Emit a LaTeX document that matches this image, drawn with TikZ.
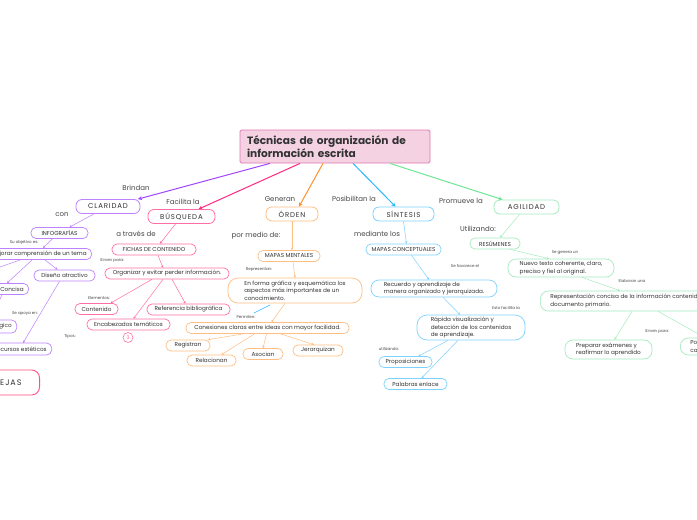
\documentclass[tikz,border=0pt]{standalone}
\usepackage{fontspec}
\setmainfont{Poppins}
\newfontfamily\spacedfont[LetterSpace=12]{Poppins}
\usetikzlibrary{arrows.meta,positioning}

\definecolor{titlefill}{RGB}{244,210,226}
\definecolor{titleline}{RGB}{226,120,180}
\definecolor{claridadline}{RGB}{160,70,255}
\definecolor{claridadbox}{RGB}{190,130,255}
\definecolor{busquedaline}{RGB}{255,40,130}
\definecolor{busquedabox}{RGB}{255,110,165}
\definecolor{ordenline}{RGB}{255,145,45}
\definecolor{ordenbox}{RGB}{255,190,130}
\definecolor{sintesisline}{RGB}{40,185,255}
\definecolor{sintesisbox}{RGB}{125,210,255}
\definecolor{agilidadline}{RGB}{110,230,150}
\definecolor{agilidadbox}{RGB}{165,235,190}
\definecolor{extraline}{RGB}{255,80,130}
\definecolor{labelgray}{RGB}{70,70,70}
\definecolor{textdark}{RGB}{50,50,50}

\tikzset{
  maintopic/.style={draw=#1, rounded corners=6pt, line width=0.8pt, fill=white, text=textdark,
    font=\spacedfont\fontsize{7}{8}\selectfont, minimum height=14pt, inner xsep=8pt, inner ysep=2pt},
  subtopic/.style={draw=#1, rounded corners=5pt, line width=0.7pt, fill=white, text=textdark,
    font=\fontsize{5.7}{7.6}\selectfont, minimum height=11pt, inner xsep=5pt, inner ysep=1.5pt},
  bigtopic/.style={subtopic=#1, rounded corners=8pt, align=left},
  linklabel/.style={font=\fontsize{7}{8}\selectfont, text=labelgray, inner sep=0pt},
  tinylabel/.style={font=\fontsize{4}{5}\selectfont, text=labelgray, inner sep=0pt},
  mainlink/.style={draw=#1, line width=1pt, -{Stealth[length=4pt,width=4pt]}},
  sublink/.style={draw=#1, line width=0.5pt, -{Stealth[length=2.5pt,width=2.5pt]}},
}

\begin{document}
\begin{tikzpicture}[x=1pt,y=-1pt]
\useasboundingbox (0,0) rectangle (697,520);
\fill[white] (0,0) rectangle (697,520);
\clip (0,0) rectangle (697,520);

% central topic
\node[draw=titleline, fill=titlefill, line width=0.8pt, rounded corners=1.5pt, text=textdark,
  text width=176pt, align=left, inner xsep=7pt, minimum height=33pt,
  font=\bfseries\fontsize{10.6}{13.5}\selectfont] (title) at (335,146.5)
  {Técnicas de organización de\\información escrita};

% main topics
\node[maintopic=claridadbox, minimum width=64pt] (claridad) at (108,206.5) {CLARIDAD};
\node[maintopic=busquedabox, minimum width=67pt] (busqueda) at (181.5,216.5) {BÚSQUEDA};
\node[maintopic=ordenbox, minimum width=52pt] (orden) at (292,214) {ÓRDEN};
\node[maintopic=sintesisbox, minimum width=61pt] (sintesis) at (403.5,214) {SÍNTESIS};
\node[maintopic=agilidadbox, minimum width=65pt] (agilidad) at (526.5,207) {AGILIDAD};

\node[linklabel] (lblbrindan) at (136,188) {Brindan};
\node[linklabel] (lblfacilita) at (183,202) {Facilita la};
\node[linklabel] (lblgeneran) at (280,199) {Generan};
\node[linklabel] (lblposibilitan) at (354,199) {Posibilitan la};
\node[linklabel] (lblpromueve) at (461,201) {Promueve la};

\draw[mainlink=claridadline] ([xshift=-65pt]title.south) -- ([xshift=30pt]claridad.north);
\draw[mainlink=busquedaline] ([xshift=-35pt]title.south) -- ([xshift=17pt]busqueda.north);
\draw[mainlink=ordenline] ([xshift=-12pt]title.south) -- ([xshift=7pt]orden.north);
\draw[mainlink=sintesisline] ([xshift=18pt]title.south) -- ([xshift=-8pt]sintesis.north);
\draw[mainlink=agilidadline] ([xshift=55pt]title.south) -- ([xshift=-24pt]agilidad.north);

% claridad
\node[linklabel] (lblcon) at (62,215) {con};
\node[subtopic=claridadbox, minimum width=57pt] (infografias) at (59.5,233) {INFOGRAFÍAS};
\node[tinylabel] (lblobjetivo) at (24,242) {Su objetivo es:};
\node[subtopic=claridadbox, anchor=east] (mejorar) at (92,254) {Mejorar comprensión de un tema};
\node[subtopic=claridadbox, anchor=east] (concisa) at (29,289) {Concisa};
\node[subtopic=claridadbox, minimum width=61pt] (diseno) at (64.5,275.5) {Diseño atractivo};
\node[tinylabel] (lblapoya) at (25,314) {Se apoya en:};
\node[subtopic=claridadbox, anchor=east, minimum height=13pt] (logico) at (17,326.5) {Lógico};
\node[subtopic=claridadbox, anchor=east, minimum height=12pt] (recursos) at (52,349) {Recursos estéticos};
\node[tinylabel] (lbltipos) at (70,336) {Tipos:};
\coordinate (offleft) at (-20,274);

\draw[sublink=claridadbox] ([xshift=-14pt]claridad.south) -- ([xshift=10pt]infografias.north);
\draw[sublink=claridadbox] ([xshift=-7pt]infografias.south) -- (43,248);
\draw[sublink=claridadbox] (32,260) -- ([xshift=-5pt]concisa.north);
\draw[sublink=claridadbox] (45,260) -- ([xshift=-7pt]diseno.north);
\draw[sublink=claridadbox] (20,260) -- (offleft);
\draw[sublink=claridadbox] ([xshift=-10pt]concisa.south) -- ([xshift=-12pt]logico.north);
\draw[sublink=claridadbox] ([xshift=-5pt]diseno.south) -- (23,343);

\node[draw=extraline, rounded corners=8pt, line width=0.9pt, fill=white, text=textdark,
  font=\spacedfont\fontsize{8}{9}\selectfont, anchor=east, minimum height=25pt,
  text width=30pt, align=right, inner xsep=18pt] (ejas) at (40,382.5) {EJAS};

% busqueda
\node[linklabel] (lbltraves) at (136,234) {a través de};
\node[subtopic=busquedabox, minimum width=84pt] (fichas) at (154,249.5) {FICHAS DE CONTENIDO};
\node[tinylabel] (lblsirven) at (112,260) {Sirven para:};
\node[subtopic=busquedabox, minimum width=124pt] (organizar) at (167,273.5) {Organizar y evitar perder información.};
\node[tinylabel] (lblelementos) at (99,298) {Elementos:};
\node[subtopic=busquedabox, minimum width=43pt] (contenido) at (96.5,309) {Contenido};
\node[subtopic=busquedabox, minimum width=83pt] (referencia) at (188.5,309.5) {Referencia bibliográfica};
\node[subtopic=busquedabox, minimum width=83pt] (encabezados) at (128.5,324.5) {Encabezados temáticos};
\node[circle, draw=busquedabox, line width=0.6pt, minimum size=10pt, inner sep=0pt,
  font=\fontsize{5}{5}\selectfont, text=busquedabox] (pinkcount) at (128,337.5) {3};

\draw[sublink=busquedabox] ([xshift=-6pt]busqueda.south) -- ([xshift=6pt]fichas.north);
\draw[sublink=busquedabox] ([xshift=4pt]fichas.south) -- ([xshift=-4pt]organizar.north);
\draw[sublink=busquedabox] ([xshift=-15pt]organizar.south) -- ([xshift=14pt]contenido.north);
\draw[sublink=busquedabox] ([xshift=5pt]organizar.south) -- ([xshift=-3pt]referencia.north);
\draw[sublink=busquedabox] ([xshift=-4pt]organizar.south) -- ([xshift=5pt]encabezados.north);

% orden
\node[linklabel] (lblmedio) at (256,236) {por medio de:};
\node[subtopic=ordenbox, minimum width=62pt] (mentales) at (289,256) {MAPAS MENTALES};
\node[tinylabel] (lblrepresentan) at (259,270) {Representan:};
\node[bigtopic=ordenbox, rounded corners=10pt, minimum width=134pt, minimum height=25pt] (formagrafica) at (295,290.5)
  {En forma gráfica y esquemática los\\aspectos más importantes de un\\conocimiento.};
\node[tinylabel] (lblpermiten) at (246,317) {Permiten:};
\coordinate (strayA) at (254,313);
\coordinate (strayB) at (270,305);
\node[subtopic=ordenbox, minimum width=163pt] (conexiones) at (267.5,328) {Conexiones claras entre ideas con mayor facilidad.};
\node[subtopic=ordenbox, minimum width=44pt] (registran) at (188,345.5) {Registran};
\node[subtopic=ordenbox, minimum width=49pt] (relacionan) at (211.5,360.5) {Relacionan};
\node[subtopic=ordenbox, minimum width=40pt] (asocian) at (263,354) {Asocian};
\node[subtopic=ordenbox, minimum width=50pt] (jerarquizan) at (318,350.5) {Jerarquizan};

\draw[sublink=ordenbox] (orden.south) -- ([xshift=3pt]mentales.north);
\draw[sublink=ordenbox] ([xshift=4pt]mentales.south) -- (formagrafica.north);
\draw[sintesisline, line width=0.6pt] (strayA) -- (strayB);
\draw[sublink=ordenbox] ([xshift=-10pt]formagrafica.south) -- ([xshift=4pt]conexiones.north);
\draw[sublink=ordenbox] ([xshift=-24pt]conexiones.south) -- ([xshift=20pt]registran.north);
\draw[sublink=ordenbox] ([xshift=-13pt]conexiones.south) -- ([xshift=10pt]relacionan.north);
\draw[sublink=ordenbox] ([xshift=-1pt]conexiones.south) -- (asocian.north);
\draw[sublink=ordenbox] ([xshift=13pt]conexiones.south) -- ([xshift=-4pt]jerarquizan.north);

% sintesis
\node[linklabel] (lblmediante) at (377,234) {mediante los};
\node[subtopic=sintesisbox, minimum width=75pt] (conceptuales) at (403.5,249.5) {MAPAS CONCEPTUALES};
\node[tinylabel] (lblfavorece) at (465,266) {Se favorece el};
\node[bigtopic=sintesisbox, minimum width=126pt, minimum height=17pt] (recuerdo) at (434,288.5)
  {Recuerdo y aprendizaje de\\manera organizado y jerarquizada.};
\node[tinylabel] (lblfacilitala) at (506,308) {Esto facilita la};
\node[bigtopic=sintesisbox, rounded corners=10pt, minimum width=108pt, minimum height=25pt] (rapida) at (471,327.5)
  {Rápida visualización y\\detección de los contenidos\\de aprendizaje.};
\node[tinylabel] (lblutilizando) at (389,349) {utilizando:};
\node[subtopic=sintesisbox, minimum width=53pt] (proposiciones) at (405.5,362) {Proposiciones};
\node[subtopic=sintesisbox, minimum width=63pt] (palabras) at (415.5,384) {Palabras enlace};

\draw[sublink=sintesisbox] (sintesis.south) -- ([xshift=3pt]conceptuales.north);
\draw[sublink=sintesisbox] ([xshift=8pt]conceptuales.south) -- ([xshift=-5pt]recuerdo.north);
\draw[sublink=sintesisbox] ([xshift=9pt]recuerdo.south) -- ([xshift=-11pt]rapida.north);
\draw[sublink=sintesisbox] ([xshift=-23pt]rapida.south) -- ([xshift=13pt]proposiciones.north);
\draw[sublink=sintesisbox] ([xshift=-13pt]rapida.south) -- ([xshift=6pt]palabras.north);

% agilidad
\node[linklabel] (lblutil) at (478,229) {Utilizando:};
\node[subtopic=agilidadbox, minimum width=50pt] (resumenes) at (495,243.5) {RESÚMENES};
\node[tinylabel] (lblgenera) at (565,253) {Se genera un};
\node[bigtopic=agilidadbox, minimum width=106pt, minimum height=18pt] (nuevo) at (561,268)
  {Nuevo texto coherente, claro,\\preciso y fiel al original.};
\node[tinylabel] (lblelaboran) at (632,281) {Elaboran una};
\node[bigtopic=agilidadbox, anchor=west, minimum height=20pt, inner xsep=10pt] (representacion) at (540,301)
  {Representación concisa de la información contenida en el\\documento primario.};
\node[tinylabel] (lblsirvenpara) at (657,331) {Sirven para:};
\node[bigtopic=agilidadbox, minimum width=87pt, minimum height=19pt] (preparar) at (608.5,349.5)
  {Preparar exámenes y\\reafirmar lo aprendido};
\node[bigtopic=agilidadbox, anchor=west, minimum height=17pt, text width=30pt, inner xsep=10pt] (pofrag) at (680,346.5)
  {Po\\ca};

\draw[sublink=agilidadbox] ([xshift=-7pt]agilidad.south) -- ([xshift=5pt]resumenes.north);
\draw[sublink=agilidadbox] ([xshift=15pt]resumenes.south) -- ([xshift=-12pt]nuevo.north);
\draw[sublink=agilidadbox] ([xshift=21pt]nuevo.south) -- ([xshift=80pt]representacion.north west);
\draw[sublink=agilidadbox] ([xshift=92pt]representacion.south west) -- ([xshift=6pt]preparar.north);
\draw[sublink=agilidadbox] ([xshift=118pt]representacion.south west) -- ([xshift=25pt]pofrag.north west);
\end{tikzpicture}
\end{document}
